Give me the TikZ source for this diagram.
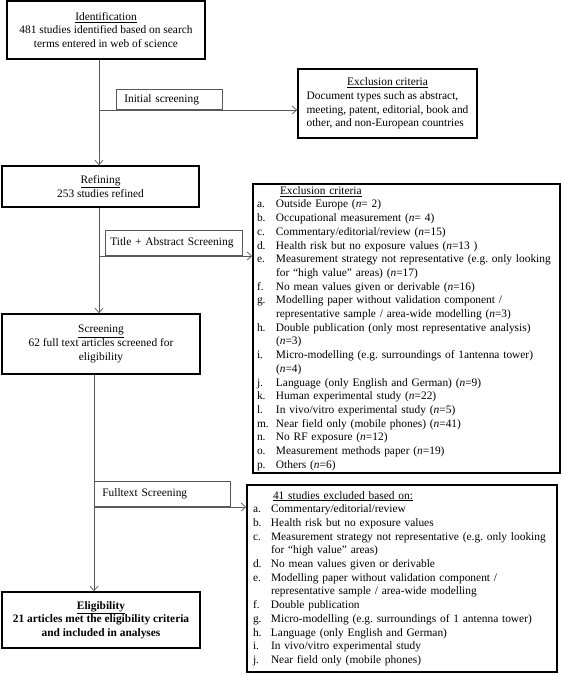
\documentclass[tikz,border=0pt]{standalone}
\usepackage{fontspec}
\setmainfont{Liberation Serif}
\usetikzlibrary{arrows.meta}
\frenchspacing
\newcommand{\lblb}[1]{\makebox[19pt][l]{#1}}
\newcommand{\lblc}[1]{\makebox[18pt][l]{#1}}
\newcommand{\nn}{\textit{n}}
\begin{document}
\begin{tikzpicture}[x=1pt,y=-1pt,
  txt/.style={font=\fontsize{11.4}{13.7}\selectfont},
  mainbox/.style={txt,draw=black,line width=1.6pt,inner sep=0pt,align=center},
  labelbox/.style={txt,draw=black!65,line width=0.6pt,inner xsep=8pt,inner ysep=0pt,align=left,anchor=south west},
  flow/.style={draw=black!65,line width=0.7pt,-{Straight Barb[length=4.5pt,width=8pt]}},
  branch/.style={draw=black!65,line width=0.7pt}
]
\useasboundingbox (0,0) rectangle (563,676);

% main column
\node[mainbox,minimum width=198pt,minimum height=58pt] (ident) at (106,30)
  {\underline{Identification}\\481 studies identified based on search\\terms entered in web of science};
\node[mainbox,minimum width=197pt,minimum height=41pt] (refin) at (100.5,186.5)
  {\underline{Refining}\\253 studies refined};
\node[mainbox,minimum width=198pt,minimum height=60pt] (screen) at (101,344)
  {\underline{Screening}\\62 full text articles screened for\\eligibility};
\node[mainbox,minimum width=198pt,minimum height=56pt,font=\fontsize{11.4}{13.7}\selectfont\bfseries] (elig) at (101,620)
  {\underline{Eligibility}\\21 articles met the eligibility criteria\\and included in analyses};

% exclusion boxes
\node[mainbox,minimum width=179pt,minimum height=69pt] (excl1) at (387.5,103.5)
  {\begin{tabular}{@{}l@{}}
   \multicolumn{1}{@{}c@{}}{\underline{Exclusion criteria}}\\
   Document types such as abstract,\\
   meeting, patent, editorial, book and\\
   other, and non-European countries
   \end{tabular}};

\node[mainbox,minimum height=289pt,text width=299pt,inner xsep=4pt,align=left] (excl2) at (406.5,328.5)
  {\begin{tabular}{@{}l@{}l@{}}
   \multicolumn{2}{@{}l@{}}{\hspace*{23pt}\underline{Exclusion criteria}}\\
   \lblb{a.} & Outside Europe (\nn= 2)\\
   \lblb{b.} & Occupational measurement (\nn= 4)\\
   \lblb{c.} & Commentary/editorial/review (\nn=15)\\
   \lblb{d.} & Health risk but no exposure values (\nn=13 )\\
   \lblb{e.} & Measurement strategy not representative (e.g. only looking\\
             & for “high value” areas) (\nn=17)\\
   \lblb{f.} & No mean values given or derivable (\nn=16)\\
   \lblb{g.} & Modelling paper without validation component /\\
             & representative sample / area-wide modelling (\nn=3)\\
   \lblb{h.} & Double publication (only most representative analysis)\\
             & (\nn=3)\\
   \lblb{i.} & Micro-modelling (e.g. surroundings of 1antenna tower)\\
             & (\nn=4)\\
   \lblb{j.} & Language (only English and German) (\nn=9)\\
   \lblb{k.} & Human experimental study (\nn=22)\\
   \lblb{l.} & In vivo/vitro experimental study (\nn=5)\\
   \lblb{m.} & Near field only (mobile phones) (\nn=41)\\
   \lblb{n.} & No RF exposure (\nn=12)\\
   \lblb{o.} & Measurement methods paper (\nn=19)\\
   \lblb{p.} & Others (\nn=6)
   \end{tabular}};

\node[mainbox,minimum height=187pt,text width=298pt,inner xsep=6pt,align=left] (excl3) at (402,578.5)
  {\begin{tabular}{@{}l@{}l@{}}
   \multicolumn{2}{@{}l@{}}{\hspace*{20pt}\underline{41 studies excluded based on:}}\\
   \lblc{a.} & Commentary/editorial/review\\
   \lblc{b.} & Health risk but no exposure values\\
   \lblc{c.} & Measurement strategy not representative (e.g. only looking\\
             & for “high value” areas)\\
   \lblc{d.} & No mean values given or derivable\\
   \lblc{e.} & Modelling paper without validation component /\\
             & representative sample / area-wide modelling\\
   \lblc{f.} & Double publication\\
   \lblc{g.} & Micro-modelling (e.g. surroundings of 1 antenna tower)\\
   \lblc{h.} & Language (only English and German)\\
   \lblc{i.} & In vivo/vitro experimental study\\
   \lblc{j.} & Near field only (mobile phones)
   \end{tabular}};

% branch points
\coordinate (b1) at (99,110);
\coordinate (b2) at (99,256);
\coordinate (b3) at (94,507);

% screening labels
\node[labelbox,minimum height=20pt,text width=90pt] (lab1) at (116,110) {Initial screening};
\node[labelbox,minimum height=25pt,text width=127pt,inner xsep=5pt] (lab2) at (105,256) {Title + Abstract Screening};
\node[labelbox,minimum height=25pt,text width=120pt] (lab3) at (94,507) {Fulltext Screening};

% connectors
\draw[flow] (ident.south -| b1) -- (refin.north -| b1);
\draw[flow] (b1) -- (excl1.west |- b1);
\draw[flow] (refin.south -| b2) -- (screen.north -| b2);
\draw[flow] (b2) -- (excl2.west |- b2);
\draw[flow] (screen.south -| b3) -- (elig.north -| b3);
\draw[flow] (b3) -- (excl3.west |- b3);
\end{tikzpicture}
\end{document}
